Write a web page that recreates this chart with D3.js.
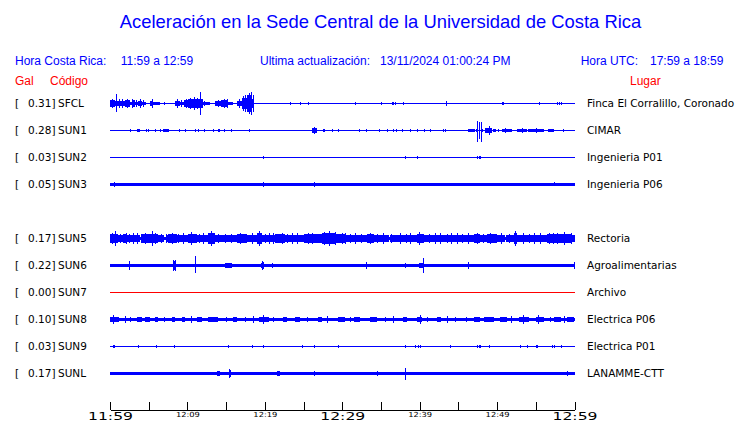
<!DOCTYPE html>
<html><head><meta charset="utf-8">
<script src="https://cdn.jsdelivr.net/npm/d3@7"></script>
<style>body{margin:0;background:#fff}svg{display:block}</style>
</head><body><svg id="c" width="740" height="423"></svg>
<script>
// ---------- DATA ----------
const title = "Aceleración en la Sede Central de la Universidad de Costa Rica";
const localRange = "11:59 a 12:59";
const utcRange = "17:59 a 18:59";
const updated = "13/11/2024 01:00:24 PM";

const channels = ["SFCL","SUN1","SUN2","SUN3","SUN4","SUN5","SUN6","SUN7","SUN8","SUN9","SUNL"];
const peakGal  = [0.31, 0.28, 0.03, 0.05, null, 0.17, 0.22, 0.00, 0.10, 0.03, 0.17];
const places   = ["Finca El Corralillo, Coronado","CIMAR","Ingenieria P01","Ingenieria P06","",
                  "Rectoria","Agroalimentarias","Archivo","Electrica P06","Electrica P01","LANAMME-CTT"];
const active   = [true,true,true,true,null,true,true,false,true,true,true];

// time axis: minutes after 11:59
const tickMinutes = [0,5,10,15,20,25,30,35,40,45,50,55,60];
const tickLabels  = ["11:59","","12:09","","12:19","","12:29","","12:39","","12:49","","12:59"];
const majorTicks  = [0,30,60];

// amplitude envelopes (percent of full channel half-scale)
const baseLevel = {SFCL:0, SUN1:0, SUN2:0, SUN3:15, SUN5:27, SUN6:13, SUN7:0, SUN8:13, SUN9:0, SUNL:13};

// segments: [startMin, endMin, level]
const sfclSegments = [[0,0.65,27],[0.65,1.94,23],[1.94,2.59,27],[2.59,2.8,12],[2.8,3.2,27],[3.2,3.6,15],
  [3.6,4.1,23],[4.1,4.7,15],[4.7,5.2,4],[5.2,5.6,23],[5.6,6.5,12],[8.4,9.05,23],[9.05,9.5,15],[9.5,10.1,27],
  [10.1,10.7,31],[10.7,11.6,38],[11.6,12.0,38],[12.0,12.9,15],[13.6,14.4,19],[14.4,15.3,27],[15.3,15.9,15],
  [16.4,17.0,23],[17.0,17.7,46],[17.7,18.3,62],[18.3,18.6,38]];
const sun1Segments = [[3.45,3.9,12],[6.8,7.6,15],[14.0,14.2,15],[26.1,26.7,19],[27.5,27.7,15],[46.3,46.5,12],
  [46.55,47.2,15],[47.25,47.4,15],[48.0,48.2,15],[48.5,49.4,19],[49.5,49.8,12],[50.1,50.3,12],[50.65,51.95,15],
  [52.6,53.9,15],[54.05,56.0,15],[56.6,57.3,15]];
const sun2Segments = [];
const sun3Segments = [];
const sun5Segments = [[0,1.08,35],[1.7,2.16,38],[3.9,4.1,15],[4.1,4.96,31],[4.96,6.25,38],[6.25,7.54,27],[7.0,7.2,15],
  [7.54,8.62,35],[10.1,11.2,35],[12.7,13.6,42],[16.4,17.7,31],[19.0,19.6,42],[21.3,22.6,35],
  [25.2,27.4,31],[27.4,29.1,42],[29.1,30.4,35],[33.2,34.05,35],[36.0,36.2,15],[39.65,40.5,38],[47.0,47.8,35],
  [48.7,50.0,35],[51.0,51.2,15],[52.2,52.6,42],[56.5,59.5,35]];
const sun6Segments = [[7.1,7.5,8],[8.1,8.5,31],[12.3,13.6,8],[14.9,15.7,18],[19.5,19.9,23],[29.3,29.5,8],[29.9,30.1,8],
  [34.8,35.0,8],[37.5,37.7,8],[40.0,40.6,19],[41.4,41.6,8],[42.7,42.9,8],[44.0,44.2,8],[50.4,50.6,8],
  [51.3,51.5,8],[52.2,52.4,8],[54.9,55.1,8],[59.6,59.8,8]];
const sun7Segments = [];
const sun8Segments = [[0,1.1,20],[3.45,4.1,20],[4.5,5.2,20],[5.8,6.25,20],[8.0,8.4,20],[9.3,9.7,20],[11.2,11.85,20],
  [12.7,14.0,20],[15.95,16.4,20],[19.2,20.5,23],[22.4,22.8,20],[23.9,24.6,20],[26.9,27.4,20],[29.5,30.4,20],
  [31.5,32.3,20],[33.6,34.5,20],[37.9,38.4,20],[39.65,40.3,23],[42.2,42.7,20],[47.0,47.85,20],[48.3,49.6,20],
  [50.4,51.3,20],[52.8,54.1,23],[55.0,56.0,23],[57.3,58.2,20],[59.05,59.9,20]];
const sun9Segments = [[0.4,0.7,12]];
const sunlSegments = [[1.7,1.95,8],[4.5,4.75,8],[7.1,7.75,8],[9.05,9.3,8],[11.4,11.65,8],[13.1,13.3,8],[13.8,14.2,19],
  [16.4,16.6,8],[19.6,19.8,8],[21.55,21.95,19],[23.5,23.7,8],[25.2,25.4,8],[32.0,32.2,8],[34.0,34.2,8],
  [36.4,36.6,8],[41.7,41.9,8],[47.3,47.5,8],[52.1,52.3,8],[54.3,54.5,8],[56.4,56.6,8]];

// spikes: [minute, up, down]
const sfclSpikes = [[0.78,72,64],[0.3,35,35],[1.2,31,31],[1.6,35,35],[2.2,38,38],[2.9,35,35],[3.4,27,27],[4.3,27,27],
  [5.4,31,31],[3.85,38,38],[7.0,12,12],[8.6,31,31],[9.2,27,27],[9.8,35,35],[10.3,42,42],[10.9,50,50],[11.3,46,46],
  [11.64,90,85],[12.2,23,23],[14.0,27,27],[14.7,35,35],[15.1,31,31],[16.6,31,31],[17.2,54,54],[17.5,69,69],
  [17.8,69,69],[18.0,77,77],[18.2,85,85],[18.45,69,69],
  [23.3,8,8],[24.6,12,12],[25.6,12,12],[31.6,12,12],[35.0,12,12],[36.4,15,15],[36.6,15,15],[36.8,12,12],
  [37.8,15,15],[43.4,19,19],[50.6,12,12],[50.8,12,12],[55.4,15,15],[57.7,12,12],[58.0,12,12],[58.2,12,12]];
const sun1Spikes = [[2.6,12,12],[4.7,12,12],[4.9,12,12],[5.8,12,12],[6.5,12,12],[8.9,12,12],[9.7,12,12],[11.0,12,12],
  [11.4,12,12],[12.2,12,12],[13.3,12,12],[14.7,12,12],[15.6,12,12],[17.9,12,12],[26.4,27,27],[27.6,15,15],
  [28.7,12,12],[29.4,12,12],[32.1,12,12],[33.1,12,12],[34.7,12,12],[35.8,12,12],[36.5,12,12],[36.9,12,12],
  [37.7,12,12],[38.8,12,12],[39.7,12,12],[40.6,12,12],[41.3,12,12],[43.0,12,12],[43.3,12,12],
  [47.42,70,85],[47.68,62,62],[47.94,62,85],[48.9,35,35],[51.0,19,19],[53.2,19,19],[55.0,19,19],[58.5,12,12]];
const sun2Spikes = [[19.7,15,15],[38.1,15,15],[39.7,8,8],[47.4,12,12],[47.6,12,12],[47.85,12,12]];
const sun3Spikes = [[0.56,23,23],[19.7,23,23],[26.3,23,23],[57.4,23,15]];
const sun5Spikes = [[0.65,54,54],[0.3,42,42],[1.3,38,38],[2.03,46,46],[2.5,38,38],[3.0,42,42],[3.45,46,46],[4.0,38,38],
  [4.5,42,42],[5.39,54,54],[5.82,46,46],[6.6,38,38],[7.2,35,35],[7.97,46,46],[8.8,38,38],[9.4,42,42],[10.47,50,50],
  [11.5,38,38],[12.0,42,42],[13.06,54,54],[14.0,38,38],[14.8,35,35],[15.6,38,38],[16.8,42,42],[17.2,38,38],
  [18.3,46,46],[19.27,54,54],[20.0,38,38],[20.6,42,42],[21.1,46,46],[22.2,46,46],[22.8,38,38],[23.5,42,42],
  [24.1,46,46],[25.0,38,38],[25.6,42,42],[26.08,46,46],[26.6,38,38],[27.6,50,50],[28.23,54,54],[29.1,50,50],
  [29.96,46,46],[30.4,42,42],[31.0,38,38],[31.6,42,42],[32.4,38,38],[33.6,46,46],[34.5,38,38],[35.3,42,42],
  [36.3,38,38],[37.5,42,42],[38.2,38,38],[38.8,42,42],[39.96,50,50],[41.2,38,38],[42.0,42,42],[42.67,42,42],
  [43.5,38,38],[44.0,42,42],[44.83,42,42],[45.5,38,38],[46.2,42,42],[47.4,46,46],[48.2,38,38],[49.1,46,46],
  [50.5,42,42],[51.5,38,38],[52.37,54,54],[53.3,42,42],[54.1,38,38],[54.8,42,42],[55.6,42,42],[56.7,46,46],
  [57.2,42,42],[57.76,46,46],[58.62,50,50],[59.5,46,46]];
const sun6Spikes = [[2.5,36,36],[8.2,46,46],[8.35,42,42],[11.0,72,59],[19.6,35,35],[19.75,27,27],[20.9,19,19],
  [33.1,27,27],[38.1,23,23],[39.9,23,23],[40.4,58,58],[46.3,27,27],[59.9,27,27]];
const sun7Spikes = [];
const sun8Spikes = [[0.4,31,31],[2.0,27,27],[2.6,23,23],[7.0,23,23],[10.5,27,27],[15.0,23,23],[17.5,23,23],[18.5,27,27],
  [19.7,35,35],[21.0,23,23],[25.5,23,23],[28.0,27,27],[31.0,23,23],[35.5,23,23],[36.6,27,27],[40.0,31,31],
  [41.0,23,23],[43.5,27,27],[44.5,23,23],[46.0,23,23],[51.8,27,27],[53.4,31,31],[55.3,35,35],[56.8,23,23],[58.6,27,27]];
const sun9Spikes = [[0.56,15,15],[3.66,12,12],[5.95,12,12],[8.3,12,12],[15.3,12,12],[18.3,12,12],[19.7,12,12],
  [24.8,12,12],[26.4,12,12],[29.4,12,12],[38.1,12,12],[39.4,10,10],[39.8,10,10],[40.1,10,10],[43.9,10,10],
  [47.4,12,12],[47.6,12,12],[47.85,12,12],[48.9,12,12],[53.0,10,10],[53.8,10,10],[55.0,12,12],[55.2,12,12],
  [57.1,10,10],[57.4,10,10],[58.2,10,10]];
const sunlSpikes = [[14.0,19,19],[15.4,38,38],[15.55,27,27],[21.8,19,19],[26.4,19,19],[34.5,23,23],[38.1,44,51],[59.05,19,19]];

const segmentsBy = {SFCL:sfclSegments,SUN1:sun1Segments,SUN2:sun2Segments,SUN3:sun3Segments,SUN5:sun5Segments,
  SUN6:sun6Segments,SUN7:sun7Segments,SUN8:sun8Segments,SUN9:sun9Segments,SUNL:sunlSegments};
const spikesBy = {SFCL:sfclSpikes,SUN1:sun1Spikes,SUN2:sun2Spikes,SUN3:sun3Spikes,SUN5:sun5Spikes,
  SUN6:sun6Spikes,SUN7:sun7Spikes,SUN8:sun8Spikes,SUN9:sun9Spikes,SUNL:sunlSpikes};

// ---------- DRAW ----------
const BLUE = "#0000ff", RED = "#ff0000";
const svg = d3.select("#c");
const x = d3.scaleLinear().domain([0,60]).range([110, 574.5]);
const y = d3.scalePoint().domain(channels).range([103.5, 373.5]);
const amp = d3.scaleLinear().domain([0,100]).range([0,13]);

svg.append("text").attr("x",380.5).attr("y",28).attr("text-anchor","middle")
  .attr("font-family","Liberation Sans, Arial, sans-serif").attr("font-size",18.4).attr("fill",BLUE).text(title);

const hdr = svg.append("g").attr("font-family","Liberation Sans, Arial, sans-serif").attr("font-size",12);
[["Hora Costa Rica:",15],[localRange,120.7],["Ultima actualización:",260],[updated,380],["Hora UTC:",580.7],[utcRange,650]]
  .forEach(([t,px]) => hdr.append("text").attr("x",px).attr("y",65).attr("fill",BLUE).text(t));
[["Gal",15],["Código",50],["Lugar",630]]
  .forEach(([t,px]) => hdr.append("text").attr("x",px).attr("y",84.5).attr("fill",RED).text(t));

function envelope(base, segs){
  const b = Array.from(new Set([0,60].concat(segs.flatMap(s=>[s[0],s[1]])))).sort((a,c)=>a-c);
  const pts = [];
  for (let i=0;i<b.length-1;i++){
    const mid=(b[i]+b[i+1])/2; let a=base;
    segs.forEach(s=>{ if(mid>=s[0] && mid<s[1]) a=s[2]; });
    pts.push([b[i],a]);
  }
  pts.push([60, pts[pts.length-1][1]]);
  return pts;
}

const lab = svg.append("g").attr("font-family","DejaVu Sans, sans-serif").attr("font-size",10.5).attr("fill","#000");
channels.forEach((ch,i)=>{
  if (active[i] === null) return;
  const cy = y(ch);
  const col = active[i] ? BLUE : RED;
  lab.append("text").attr("x",15).attr("y",cy+3.5).text("[");
  lab.append("text").attr("x",55.5).attr("y",cy+3.5).attr("text-anchor","end").text(peakGal[i].toFixed(2)+"]");
  lab.append("text").attr("x",58).attr("y",cy+3.5).text(ch);
  lab.append("text").attr("x",587).attr("y",cy+3.5).text(places[i]);

  const g = svg.append("g").attr("shape-rendering","crispEdges");
  g.append("line").attr("x1",x(0)).attr("x2",x(60)).attr("y1",cy).attr("y2",cy).attr("stroke",col).attr("stroke-width",1);
  const env = envelope(baseLevel[ch], segmentsBy[ch]);
  const area = d3.area().x(d=>x(d[0])).y0(d=>cy-amp(d[1])).y1(d=>cy+amp(d[1])).curve(d3.curveStepAfter);
  g.append("path").attr("d",area(env)).attr("fill",col);
  g.selectAll("line.sp").data(spikesBy[ch]).join("line").attr("class","sp")
    .attr("x1",d=>Math.round(x(d[0]))+0.5).attr("x2",d=>Math.round(x(d[0]))+0.5)
    .attr("y1",d=>cy-amp(d[1])).attr("y2",d=>cy+amp(d[2])).attr("stroke",col).attr("stroke-width",1);
});

const axis = d3.axisBottom(x).tickValues(tickMinutes).tickSizeInner(-8).tickSizeOuter(0).tickPadding(3)
  .tickFormat((d,i)=>tickLabels[i]);
const ax = svg.append("g").attr("transform","translate(0,409.5)").call(axis);
ax.select(".domain").attr("stroke","#000").attr("shape-rendering","crispEdges");
ax.selectAll(".tick line").attr("stroke","#000").attr("shape-rendering","crispEdges");
ax.selectAll(".tick text").attr("fill","#000").attr("font-family","DejaVu Sans, sans-serif")
  .attr("font-size",d=>majorTicks.includes(d)?11:7)
  .attr("dy",null)
  .attr("y",d=>majorTicks.includes(d)?10:7)
  .attr("textLength",d=>majorTicks.includes(d)?45:24)
  .attr("lengthAdjust","spacingAndGlyphs");
</script></body></html>
